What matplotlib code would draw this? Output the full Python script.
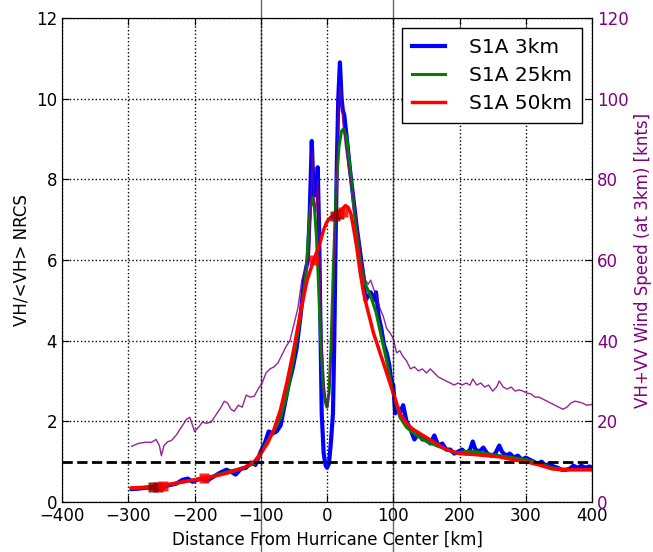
#!/usr/bin/env python3
import matplotlib
matplotlib.use("Agg")
import matplotlib.pyplot as plt
import numpy as np

# S1A VH/<VH> NRCS, 3km resolution
x_3km = [-295, -285, -275, -265, -258, -250, -245, -238, -228, -218, -210, -203, -196,
         -190, -182, -172, -162, -152, -145, -138, -130, -122, -115, -108, -100, -94,
         -88, -82, -76, -70, -64, -58, -52, -46, -40,
         -34, -29, -26, -23, -20, -18, -16, -14, -12, -10, -8, -5, -2, 0, 3, 6, 9, 11,
         13, 15, 17, 19.5, 22, 24, 26, 30,
         35, 40, 45, 50, 55, 58, 62, 66, 70, 74, 78, 82, 86, 90, 94, 97, 100, 103, 106,
         110, 115, 120, 126, 132, 138, 144, 150, 156, 162, 168, 174, 180, 186, 192, 198,
         204, 210, 216, 220, 224, 230, 236, 242, 248, 254, 260, 264, 270, 276, 282, 288,
         294, 300, 306, 312, 318, 324, 330, 336, 342, 348, 354, 360, 366, 372, 378, 384,
         390, 396, 400]
vh_3km = [0.32, 0.33, 0.35, 0.36, 0.38, 0.3, 0.38, 0.42, 0.45, 0.55, 0.58, 0.5, 0.55,
          0.58, 0.52, 0.62, 0.72, 0.8, 0.75, 0.68, 0.82, 0.85, 0.98, 0.92, 1.25, 1.45,
          1.75, 1.7, 1.75, 1.9, 2.4, 2.9, 3.3, 3.8, 4.6,
          5.6, 6.0, 7.2, 8.95, 7.6, 8.0, 7.6, 8.3, 6.8, 4.5, 2.2, 1.2, 0.9, 0.85, 0.95,
          1.5, 2.2, 4.0, 6.5, 8.5, 10.0, 10.9, 10.0, 9.7, 9.6, 9.0,
          8.2, 7.5, 6.8, 6.2, 5.6, 5.0, 5.1, 5.2, 5.0, 5.2, 4.6,
          4.3, 3.9, 3.7, 3.4, 3.0, 2.9, 2.2, 2.35, 2.2, 2.4, 2.0, 1.8, 1.55, 1.7, 1.55,
          1.55, 1.45, 1.65, 1.4, 1.45, 1.3, 1.3, 1.2, 1.25, 1.3, 1.2, 1.3, 1.5, 1.3, 1.25,
          1.35, 1.2, 1.15, 1.2, 1.4, 1.25, 1.15, 1.2, 1.1, 1.15, 1.05, 1.1, 1.05, 1.0,
          0.95, 1.0, 0.9, 0.95, 0.88, 0.85, 0.8, 0.8, 0.82, 0.9, 0.85, 0.9, 0.85, 0.88,
          0.85]

# S1A VH/<VH> NRCS, 25km smoothing
x_25km = [-295, -260, -230, -200, -170, -150, -130, -110, -100, -90, -80, -70, -60, -50,
          -40, -32, -28, -25, -22, -19, -16, -13, -10, -6, -3, 0, 3, 6, 10, 14, 18, 22,
          25, 30, 35, 42, 50, 58, 66, 74, 82, 90, 100, 110, 120, 135, 150, 165, 180, 195,
          210, 225, 240, 260, 280, 300, 320, 340, 360, 380, 400]
vh_25km = [0.33, 0.38, 0.45, 0.55, 0.65, 0.75, 0.83, 0.95, 1.2, 1.5, 1.75, 2.1, 2.7, 3.6,
           4.6, 5.6, 6.6, 7.3, 7.55, 7.3, 6.6, 5.5, 4.2, 3.0, 2.5, 2.35, 2.7, 3.8, 6.0,
           7.8, 8.8, 9.2, 9.25, 9.0, 8.2, 7.1, 6.0, 5.4, 5.1, 4.7, 4.1, 3.5, 2.7, 2.1,
           1.85, 1.65, 1.5, 1.4, 1.3, 1.22, 1.25, 1.25, 1.2, 1.15, 1.1, 1.05, 0.95, 0.85,
           0.8, 0.8, 0.8]

# S1A VH/<VH> NRCS, 50km smoothing
x_50km = [-295, -270, -250, -225, -200, -175, -150, -125, -110, -100, -90, -80, -70, -60,
          -50, -40, -30, -20, -12, -5, 0, 5, 10, 15, 20, 25, 28, 32, 36, 40, 45, 50, 55,
          60, 70, 80, 90, 100, 110, 120, 130, 140, 150, 160, 170, 180, 190, 200, 220,
          240, 260, 280, 300, 320, 340, 355, 370, 385, 400]
vh_50km = [0.35, 0.37, 0.4, 0.48, 0.55, 0.62, 0.72, 0.85, 1.0, 1.2, 1.45, 1.8, 2.3, 3.0,
           3.8, 4.7, 5.5, 6.0, 6.35, 6.75, 6.95, 7.05, 7.1, 7.15, 7.2, 7.3, 7.35, 7.3,
           7.15, 6.8, 6.3, 5.7, 5.2, 4.85, 4.2, 3.7, 3.2, 2.7, 2.2, 1.95, 1.8, 1.7, 1.6,
           1.5, 1.4, 1.3, 1.25, 1.2, 1.18, 1.15, 1.12, 1.05, 1.0, 0.92, 0.82, 0.8, 0.8,
           0.8, 0.8]

# square markers on the 50km curve
x_marks = [-262, -255, -248, -185, -20, 12, 18, 24]
y_marks = [0.37, 0.38, 0.4, 0.6, 6.0, 7.1, 7.15, 7.2]
mark_colors = ['#8b0000', '#a00000', 'r', 'r', 'r', '#a00000', '#8b0000', 'r']

# VH+VV wind speed at 3km (knots)
x_wind = [-295, -285, -275, -265, -258, -253, -250, -246, -240, -235, -228, -220, -212,
          -207, -200, -194, -188, -182, -175, -168, -160, -155, -150, -145, -140, -134,
          -128, -122, -116, -110, -104, -98, -92, -86, -80, -74, -68, -62, -56, -50, -44,
          -38, -32, -27, -25, -22, -20, -17, -14, -11, -8, -4, 0, 4, 8, 11, 14, 17, 19.5,
          22, 24, 28, 33, 40, 48, 55, 58, 62, 66, 70, 75, 80, 85, 90, 95, 100, 105, 110,
          115, 120, 126, 132, 138, 144, 150, 156, 162, 168, 174, 180, 186, 192, 198, 204,
          210, 216, 220, 226, 232, 238, 244, 250, 256, 260, 266, 272, 278, 284, 290, 296,
          302, 308, 314, 320, 326, 332, 338, 344, 350, 356, 362, 368, 374, 380, 386, 392,
          400]
wind = [13.8, 14.5, 14.8, 14.8, 15.5, 14.0, 11.5, 14.0, 15.0, 15.2, 16.5, 18.5, 20.5,
        21.0, 17.5, 18.5, 19.8, 19.5, 19.8, 21.5, 23.5, 25.0, 24.5, 23.0, 22.5, 24.0,
        23.5, 26.5, 26.0, 26.2, 28.0, 29.5, 32.0, 33.0, 33.5, 34.5, 36.5, 38.5, 40.0,
        44.0, 48.0, 55.0, 58.0, 61.0, 70.0, 87.0, 76.0, 72.0, 80.0, 62.0, 42.0, 28.0,
        23.5, 28.0, 40.0, 60.0, 80.0, 95.0, 103.0, 99.0, 94.0, 88.0, 82.0, 75.0, 66.0,
        57.0, 55.0, 54.0, 55.0, 53.0, 51.0, 48.0, 46.0, 43.0, 42.0, 40.5, 37.0, 37.5,
        36.0, 35.0, 33.0, 33.5, 32.5, 33.0, 32.0, 33.0, 32.0, 31.0, 30.5, 30.0, 29.5,
        29.0, 29.5, 29.0, 29.5, 29.0, 30.5, 29.0, 29.5, 28.5, 29.0, 27.5, 28.5, 30.0,
        28.5, 28.0, 28.5, 27.5, 27.8, 27.5, 27.0, 26.8, 26.0, 26.0, 25.5, 25.0, 24.5,
        24.0, 23.5, 23.0, 23.5, 24.5, 25.0, 24.8, 24.5, 24.0, 24.2]

fig = plt.figure(figsize=(6.53, 5.52), dpi=100)
ax = fig.add_axes([62 / 653, 50 / 552, 530 / 653, 484 / 552])

ax.plot(x_3km, vh_3km, color='b', lw=3, label='S1A 3km')
ax.plot(x_25km, vh_25km, color='g', lw=2.2, label='S1A 25km')
ax.plot(x_50km, vh_50km, color='r', lw=2.5, label='S1A 50km')
for xm, ym, cm in zip(x_marks, y_marks, mark_colors):
    ax.plot(xm, ym, 's', color=cm, ms=7, mec='none', alpha=0.85)
ax.axhline(1, color='k', ls='--', lw=2)
for xv in [-100, 100]:
    ax.axvline(xv, ymin=-0.11, ymax=1.04, color='k', lw=1, alpha=0.6, clip_on=False)

ax.set_xlim(-400, 400)
ax.set_ylim(0, 12)
ax.grid(True, color='k', ls=':', lw=1)
ax.tick_params(direction='in', top=True, labelsize=12, length=5)
ax.set_xlabel('Distance From Hurricane Center [km]', fontsize=12)
ax.set_ylabel('VH/<VH> NRCS', fontsize=12)

ax2 = ax.twinx()
ax2.plot(x_wind, wind, color='purple', lw=1, alpha=0.85)
ax2.set_ylim(0, 120)
ax2.tick_params(direction='in', labelsize=12, length=5, labelcolor='purple')
ax2.set_ylabel('VH+VV Wind Speed (at 3km) [knts]', color='purple', fontsize=12)

leg = ax2.legend(*ax.get_legend_handles_labels(), loc='upper right', fontsize=14.5,
                 fancybox=False, framealpha=1, edgecolor='k', handlelength=1.6,
                 handletextpad=1.2, borderpad=0.5, labelspacing=0.45)
leg.get_frame().set_linewidth(1)

fig.savefig('out.png', dpi=100)
